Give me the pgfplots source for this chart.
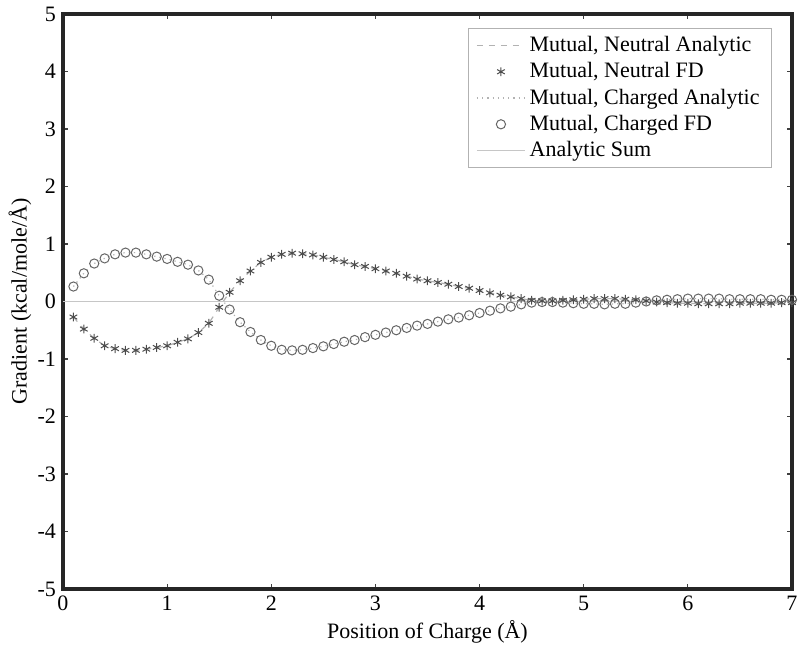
\documentclass[border=0pt]{standalone}
\usepackage{pgfplots}
\pgfplotsset{compat=1.18}
\usepackage{pgfplotstable}
\usepackage{fontspec}
\setmainfont{Liberation Serif}

% x, mutual neutral, mutual charged
\pgfplotstableread{
x    neu    chg
0.1 -0.27  0.26
0.2 -0.48  0.49
0.3 -0.64  0.66
0.4 -0.77  0.75
0.5 -0.82  0.82
0.6 -0.85  0.85
0.7 -0.85  0.85
0.8 -0.83  0.82
0.9 -0.80  0.78
1.0 -0.77  0.74
1.1 -0.71  0.69
1.2 -0.65  0.64
1.3 -0.54  0.54
1.4 -0.38  0.38
1.5 -0.10  0.10
1.6  0.16 -0.14
1.7  0.36 -0.36
1.8  0.53 -0.53
1.9  0.68 -0.67
2.0  0.77 -0.77
2.1  0.82 -0.84
2.2  0.84 -0.85
2.3  0.83 -0.84
2.4  0.81 -0.81
2.5  0.77 -0.78
2.6  0.73 -0.74
2.7  0.69 -0.70
2.8  0.64 -0.67
2.9  0.61 -0.62
3.0  0.57 -0.58
3.1  0.53 -0.54
3.2  0.49 -0.50
3.3  0.44 -0.46
3.4  0.39 -0.42
3.5  0.36 -0.39
3.6  0.33 -0.35
3.7  0.30 -0.31
3.8  0.26 -0.28
3.9  0.23 -0.24
4.0  0.19 -0.20
4.1  0.15 -0.16
4.2  0.11 -0.12
4.3  0.08 -0.09
4.4  0.05 -0.05
4.5  0.02 -0.02
4.6  0.01 -0.01
4.7  0.01 -0.01
4.8  0.02 -0.02
4.9  0.03 -0.03
5.0  0.04 -0.04
5.1  0.05 -0.04
5.2  0.05 -0.05
5.3  0.05 -0.04
5.4  0.04 -0.04
5.5  0.03 -0.02
5.6  0.01  0.00
5.7 -0.01  0.02
5.8 -0.02  0.03
5.9 -0.03  0.04
6.0 -0.03  0.05
6.1 -0.04  0.05
6.2 -0.04  0.05
6.3 -0.04  0.05
6.4 -0.04  0.04
6.5 -0.03  0.04
6.6 -0.03  0.04
6.7 -0.03  0.04
6.8 -0.03  0.03
6.9 -0.02  0.03
7.0 -0.02  0.03
}\gradtable

\begin{document}
\begin{tikzpicture}
\useasboundingbox (-31.5pt,-29pt) rectangle (368.5pt,294.5pt);
\begin{axis}[
    scale only axis,
    width=364.5pt, height=287.5pt,
    at={(0,0)}, anchor=south west,
    xmin=0, xmax=7,
    ymin=-5, ymax=5,
    xtick={0,1,...,7},
    ytick={-5,-4,...,5},
    tick align=inside,
    major tick length=2.5pt,
    tick style={black!75, line width=0.6pt},
    axis line style={black!85, line width=2pt},
    font=\fontsize{11}{13}\selectfont,
    /pgf/number format/assume math mode=true,
    xlabel={Position of Charge (Å)},
    ylabel={Gradient (kcal/mole/Å)},
    xlabel style={at={([yshift=-21.5pt]axis description cs:0.5,0)}, anchor=center},
    ylabel style={at={([xshift=-21.5pt]axis description cs:0,0.5)}, anchor=center},
    legend cell align=left,
    legend image code/.code={
        \draw[mark repeat=2,mark phase=2,#1] plot coordinates {(0pt,0pt) (12pt,0pt) (24pt,0pt)};
    },
    legend style={
        at={(1,1)}, anchor=north east,
        xshift=-10pt, yshift=-7pt,
        draw=gray!60, line width=0.4pt,
        font=\fontsize{11}{12.5}\selectfont,
        inner xsep=4pt, inner ysep=2pt,
        row sep=0pt,
    },
]
\addplot[gray!60, dashed, line width=0.6pt]
    table[x=x, y=neu] {\gradtable};
\addlegendentry{Mutual, Neutral Analytic}
\addplot[only marks, mark=asterisk, mark size=2.2pt, black!70, line width=0.5pt]
    table[x=x, y=neu] {\gradtable};
\addlegendentry{Mutual, Neutral FD}
\addplot[gray!60, dotted, line width=0.6pt]
    table[x=x, y=chg] {\gradtable};
\addlegendentry{Mutual, Charged Analytic}
\addplot[only marks, mark=o, mark size=2.3pt, black!60, line width=0.5pt]
    table[x=x, y=chg] {\gradtable};
\addlegendentry{Mutual, Charged FD}
\addplot[gray!45, line width=0.7pt]
    coordinates {(0,0) (7,0)};
\addlegendentry{Analytic Sum}
\end{axis}
\end{tikzpicture}
\end{document}
